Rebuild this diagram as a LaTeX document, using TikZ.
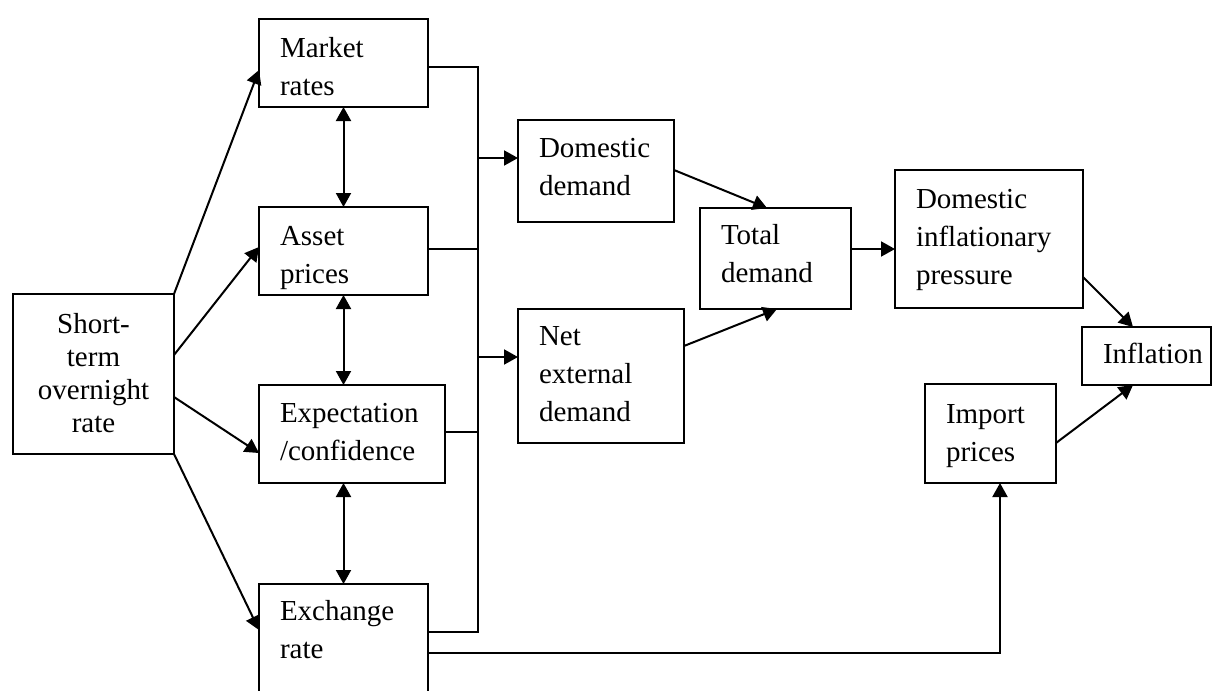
\documentclass[tikz,border=0pt]{standalone}
\usepackage{fontspec}
\setmainfont{Liberation Serif}
\usetikzlibrary{arrows.meta,calc}
\newcommand{\bt}[4]{\parbox[t][#2][t]{#1}{\leftskip=10.5pt\rightskip=0pt plus 1fil\rule{0pt}{#3}#4}}
\tikzset{
  box/.style={draw, line width=0.8pt, inner sep=0pt, outer sep=0pt, anchor=north west,
              font=\fontsize{14.5pt}{19pt}\selectfont},
  arr/.style={line width=1pt, -{Triangle[length=7pt,width=7.5pt]}},
  biarr/.style={line width=1pt, {Triangle[length=7pt,width=7.5pt]}-{Triangle[length=7pt,width=7.5pt]}},
  bus/.style={line width=0.8pt}
}
\begin{document}
\begin{tikzpicture}[x=0.5pt,y=-0.5pt]
\useasboundingbox (0,0) rectangle (1212,691);
\fill[white] (0,0) rectangle (1212,691);
% boxes
\node[box] (st) at (13,294) {\parbox[t][80pt][t]{80.5pt}{\centering\fontsize{14.5pt}{16.5pt}\selectfont\rule{0pt}{19.5pt}Short-\\term\\overnight\\rate}};
\node[box] (mr) at (259,19) {\bt{84.5pt}{44pt}{19pt}{Market\\rates}};
\node[box] (ap) at (259,207) {\bt{84.5pt}{44pt}{19pt}{Asset\\prices}};
\node[box] (ec) at (259,385) {\bt{93pt}{49pt}{18.5pt}{Expectation\\/confidence}};
\node[box] (er) at (259,584) {\bt{84.5pt}{58pt}{18pt}{Exchange\\rate}};
\node[box] (dd) at (518,120) {\bt{78pt}{51pt}{18.5pt}{Domestic\\demand}};
\node[box] (ne) at (518,309) {\bt{83pt}{67pt}{18pt}{Net\\external\\demand}};
\node[box] (td) at (700,208) {\bt{75.5pt}{50.5pt}{18pt}{Total\\demand}};
\node[box] (dip) at (895,170) {\bt{94pt}{69pt}{19pt}{Domestic\\inflationary\\pressure}};
\node[box] (inf) at (1082,327) {\bt{64.5pt}{29pt}{18pt}{Inflation}};
\node[box] (imp) at (925,384) {\bt{65.5pt}{49.5pt}{19.5pt}{Import\\prices}};
% arrows from short-term rate
\draw[arr] (st.north east) -- ($(mr.north west)+(0,51)$);
\draw[arr] ($(st.north east)+(0,61)$) -- ($(ap.north west)+(0,40)$);
\draw[arr] ($(st.north east)+(0,103)$) -- ($(ec.north west)+(0,68)$);
\draw[arr] (st.south east) -- ($(er.north west)+(0,46)$);
% two-way arrows
\draw[biarr] (mr.south) -- (ap.north);
\draw[biarr] (ap.south) -- (ap.south |- ec.north);
\draw[biarr] (ap.south |- ec.south) -- (ap.south |- er.north);
% bus
\coordinate (b1) at (478,67);
\coordinate (b2) at (478,249);
\coordinate (b3) at (478,432);
\coordinate (b4) at (478,632);
\coordinate (bd) at (478,158);
\coordinate (bn) at (478,357);
\draw[bus] ($(mr.north east)+(0,48)$) -- (b1) -- (b4) -- ($(er.north east)+(0,48)$);
\draw[bus] ($(ap.north east)+(0,42)$) -- (b2);
\draw[bus] ($(ec.north east)+(0,47)$) -- (b3);
\draw[arr] (bd) -- (bd -| dd.west);
\draw[arr] (bn) -- (bn -| ne.west);
% demand to total
\draw[arr] ($(dd.north east)+(0,50)$) -- ($(td.north west)+(67,0)$);
\draw[arr] ($(ne.north east)+(0,37)$) -- ($(td.south west)+(77,0)$);
\coordinate (tdo) at ($(td.north east)+(0,41)$);
\draw[arr] (tdo) -- (tdo -| dip.west);
% to inflation
\draw[arr] ($(dip.north east)+(0,107)$) -- ($(inf.north west)+(51,0)$);
\draw[arr] ($(imp.north east)+(0,59)$) -- ($(inf.south west)+(51,0)$);
% exchange rate to import prices
\coordinate (ero) at ($(er.north east)+(0,69)$);
\coordinate (imi) at ($(imp.south west)+(75,0)$);
\draw[arr] (ero) -| (imi);
\end{tikzpicture}
\end{document}
